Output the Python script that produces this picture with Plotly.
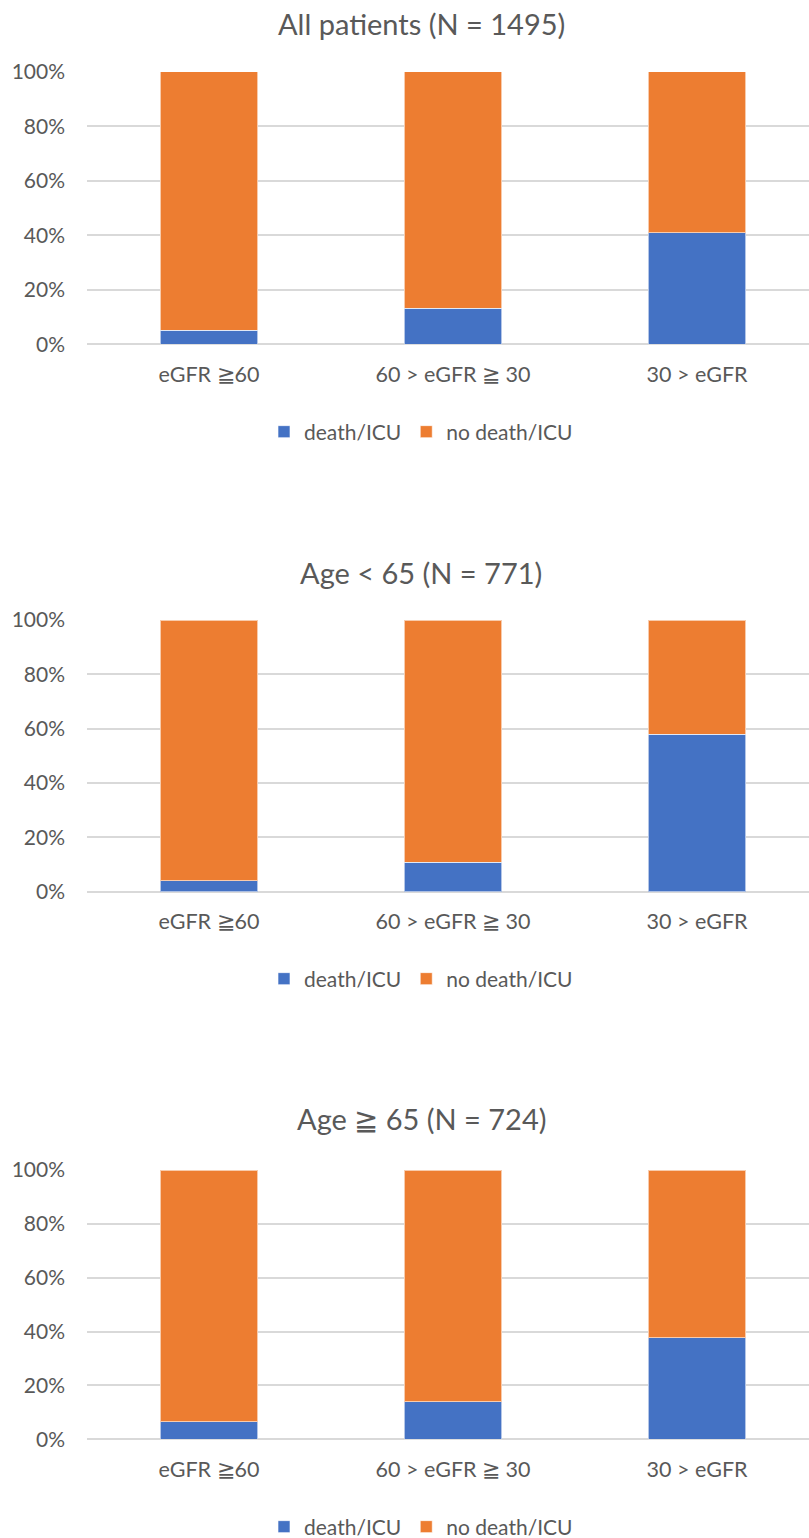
import plotly.graph_objects as go

categories = ["eGFR \u226760", "60 > eGFR \u2267 30", "30 > eGFR"]

titles = [
    "All patients (N = 1495)",
    "Age < 65 (N = 771)",
    "Age \u2267 65 (N = 724)",
]

# share (fraction) of patients with death/ICU per eGFR group
death_all = [0.052, 0.132, 0.41]
death_young = [0.040, 0.108, 0.58]
death_old = [0.065, 0.139, 0.377]

no_death_all = [1 - v for v in death_all]
no_death_young = [1 - v for v in death_young]
no_death_old = [1 - v for v in death_old]

tick_vals = [0, 0.2, 0.4, 0.6, 0.8, 1.0]
tick_text = ["0%", "20%", "40%", "60%", "80%", "100%"]

BLUE = "#4472C4"
ORANGE = "#ED7D31"
GREY_TEXT = "#595959"
GRID = "#D9D9D9"
FONT = "Lato"

W, H = 809, 1538

panels = [
    (titles[0], death_all, no_death_all),
    (titles[1], death_young, no_death_young),
    (titles[2], death_old, no_death_old),
]

# pixel layout of each panel: plot top (100%), plot bottom (0%), title y, legend y
panel_px = [
    (71.7, 344.3, 24, 432),
    (620.0, 891.7, 572, 979),
    (1170.0, 1439.3, 1118, 1527),
]

plot_left = 87
cat_step = 244
plot_right_full = plot_left + 3 * cat_step
x_range_end = 2.5 - (plot_right_full - W) / cat_step
center_x = 421 / W

fig = go.Figure()
legend_names = ["legend", "legend2", "legend3"]
layout_updates = {}
annotations = []

for i, ((title, death, no_death), (top, bottom, ty, ly)) in enumerate(zip(panels, panel_px)):
    n = "" if i == 0 else str(i + 1)
    xa, ya = "x" + n, "y" + n
    lg = legend_names[i]
    fig.add_trace(go.Bar(
        x=categories, y=death, name="death/ICU", xaxis=xa, yaxis=ya,
        marker=dict(color=BLUE, line=dict(color="rgba(255,255,255,0.6)", width=1)),
        legend=lg, hoverinfo="skip",
    ))
    fig.add_trace(go.Bar(
        x=categories, y=no_death, name="no death/ICU", xaxis=xa, yaxis=ya,
        marker=dict(color=ORANGE, line=dict(color="rgba(255,255,255,0.6)", width=1)),
        legend=lg, hoverinfo="skip",
    ))
    layout_updates["xaxis" + n] = dict(
        domain=[plot_left / W, 1], range=[-0.5, x_range_end], anchor=ya,
        showgrid=False, showline=False, zeroline=False, ticks="",
        tickfont=dict(family=FONT, size=21.5, color=GREY_TEXT),
        ticklabelstandoff=15, fixedrange=True,
    )
    layout_updates["yaxis" + n] = dict(
        domain=[1 - bottom / H, 1 - top / H], range=[0, 1.0005], anchor=xa,
        tickvals=tick_vals, ticktext=tick_text,
        showgrid=True, gridcolor=GRID, gridwidth=2,
        zeroline=True, zerolinecolor=GRID, zerolinewidth=2,
        showline=False, ticks="",
        tickfont=dict(family=FONT, size=21, color=GREY_TEXT),
        ticklabelstandoff=21, fixedrange=True,
    )
    layout_updates[lg] = dict(
        orientation="h", x=center_x, xanchor="center",
        y=1 - ly / H, yanchor="middle",
        font=dict(family=FONT, size=21, color=GREY_TEXT),
        bgcolor="rgba(0,0,0,0)", itemwidth=30, traceorder="normal",
    )
    annotations.append(dict(
        text=title, x=center_x, y=1 - ty / H, xref="paper", yref="paper",
        xanchor="center", yanchor="middle", showarrow=False,
        font=dict(family=FONT, size=29, color=GREY_TEXT),
    ))

fig.update_layout(
    width=W, height=H,
    margin=dict(l=0, r=0, t=0, b=0, autoexpand=False),
    paper_bgcolor="white", plot_bgcolor="white",
    barmode="stack", bargap=0.6,
    annotations=annotations,
    **layout_updates,
)

fig.write_html("out.html")
